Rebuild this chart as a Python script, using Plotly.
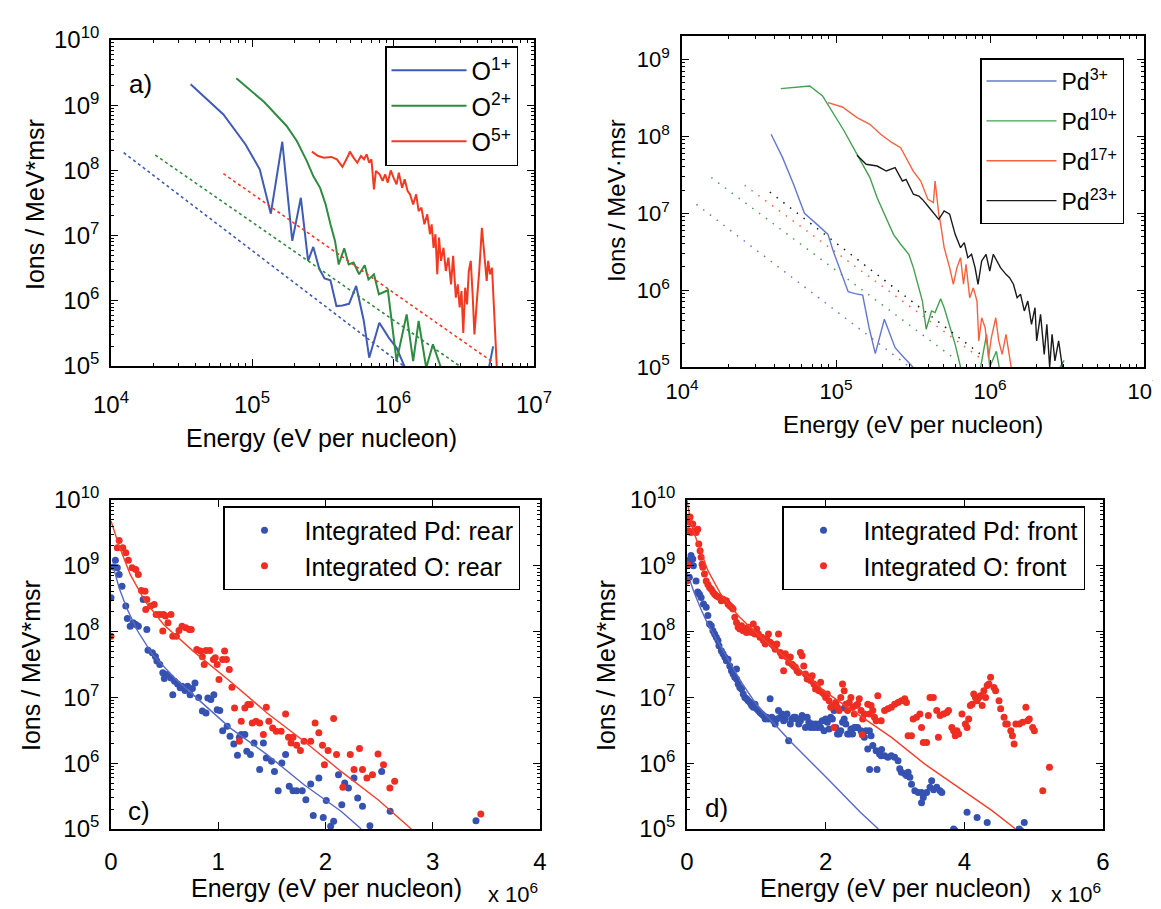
import plotly.graph_objects as go

# ---------------- a) O charge states (log-log) ----------------
o1_e = [3.67e4, 6.27e4, 9.0e4, 1.135e5, 1.36e5, 1.64e5, 1.93e5, 2.22e5, 2.5e5, 2.72e5, 3.0e5, 3.27e5, 3.6e5,
        3.97e5, 4.38e5, 4.88e5, 5.48e5, 6.2e5, 6.78e5, 8.0e5, 9.35e5, 1.06e6, 1.21e6, 2.0e6, 3.5e6, 4.77e6, 5.13e6]
o1_n = [2.1e9, 7.2e8, 2.5e8, 1.04e8, 2.17e7, 2.75e8, 8.3e6, 3.8e7, 4.1e6, 6.7e6, 3.1e6, 2.2e6, 2.06e6,
        8.3e5, 8.5e5, 9.0e5, 1.69e6, 5.0e5, 1.34e5, 4.6e5, 2.7e5, 1.9e5, 9.7e4, 4e4, 3e4, 9e4, 2.0e5]

o2_e = [7.74e4, 1.22e5, 1.76e5, 2.08e5, 2.45e5, 2.72e5, 3.04e5, 3.33e5, 3.6e5, 3.88e5, 4.12e5, 4.51e5, 4.85e5,
        5.25e5, 5.75e5, 6.3e5, 6.7e5, 7.33e5, 7.94e5, 9.2e5, 1.06e6, 1.25e6, 1.39e6, 1.52e6, 1.72e6, 1.92e6, 2.19e6]
o2_n = [2.58e9, 1.12e9, 4.8e8, 2.83e8, 1.39e8, 8.2e7, 5.4e7, 3.0e7, 1.49e7, 8.3e6, 3.6e6, 6.4e6, 3.6e6,
        3.85e6, 2.55e6, 3.5e6, 2.13e6, 2.55e6, 1.26e6, 1.45e6, 1.19e5, 6.2e5, 1.19e5, 4.9e5, 9.4e4, 2.15e5, 9.4e4]

o5_e = [2.66e5, 2.95e5, 3.23e5, 3.65e5, 4.0e5, 4.38e5, 4.8e5, 4.94e5, 5.25e5, 5.58e5, 5.93e5, 6.23e5, 6.5e5,
        6.78e5, 7.03e5, 7.33e5, 7.56e5, 8.04e5, 8.44e5, 8.8e5, 9.18e5, 9.64e5, 1.01e6, 1.06e6, 1.10e6, 1.16e6,
        1.21e6, 1.27e6, 1.32e6, 1.39e6, 1.46e6, 1.52e6, 1.59e6, 1.67e6, 1.75e6, 1.83e6, 1.88e6, 1.94e6, 2.0e6,
        2.06e6, 2.12e6, 2.19e6, 2.28e6, 2.37e6, 2.47e6, 2.58e6, 2.67e6, 2.79e6, 2.88e6, 2.97e6, 3.06e6, 3.15e6,
        3.25e6, 3.35e6, 3.45e6, 3.56e6, 3.67e6, 3.78e6, 3.95e6, 4.09e6, 4.27e6, 4.46e6, 4.62e6, 4.73e6, 4.88e6,
        5.04e6, 5.45e6]
o5_n = [1.94e8, 1.66e8, 1.57e8, 1.61e8, 1.48e8, 1.13e8, 1.66e8, 1.94e8, 1.57e8, 1.31e8, 1.66e8, 1.48e8, 1.76e8,
        1.31e8, 1.48e8, 5.1e7, 9.8e7, 8.7e7, 6.9e7, 8.7e7, 6.5e7, 1.0e8, 7.7e7, 6.1e7, 9.2e7, 5.4e7,
        7.3e7, 4.8e7, 4.3e7, 3.0e7, 4.3e7, 2.38e7, 2.68e7, 1.49e7, 2.12e7, 1.05e7, 1.49e7, 6.5e6, 1.05e7,
        2.55e6, 9.3e6, 4.1e6, 6.5e6, 2.87e6, 4.6e6, 1.79e6, 4.9e6, 1.12e6, 1.79e6, 7.9e5, 1.41e6, 3.2e5,
        1.59e6, 8.8e5, 2.87e6, 4.1e6, 1.26e6, 3.06e5, 1.12e6, 2.87e6, 1.32e7, 4.1e6, 2.01e6, 4.1e6, 2.55e6,
        3.2e6, 9.4e4]

# power-law fits (dotted), end points
fit_o1_e, fit_o1_n = [1.23e4, 1.19e6], [1.87e8, 1.0e5]
fit_o2_e, fit_o2_n = [2.06e4, 2.97e6], [1.72e8, 1.0e5]
fit_o5_e, fit_o5_n = [6.27e4, 4.98e6], [8.9e7, 1.19e5]

# ---------------- b) Pd charge states (log-log) ----------------
pd3_e = [3.79e4, 4.5e4, 5.3e4, 6.24e4, 7.5e4, 8.87e4, 9.6e4, 1.07e5, 1.2e5, 1.33e5, 1.49e5, 1.64e5, 1.8e5,
         2.06e5, 2.42e5, 2.77e5, 3.18e5, 3.5e5]
pd3_n = [1.06e8, 5.27e7, 2.37e7, 9.96e6, 7.2e6, 5.3e6, 3.2e6, 1.77e6, 9.5e5, 9.0e5, 8.6e5, 3.24e5, 1.49e5,
         4.17e5, 1.78e5, 1.32e5, 1.0e5, 8e4]

pd10_e = [4.38e4, 6.76e4, 8.18e4, 9.37e4, 1.13e5, 1.37e5, 1.66e5, 1.85e5, 2.06e5, 2.36e5, 2.63e5, 2.97e5,
          3.18e5, 3.45e5, 3.64e5, 3.85e5, 4.17e5, 4.4e5, 4.78e5, 5.04e5, 5.47e5, 5.94e5, 6.44e5, 8.0e5,
          9.5e5, 9.96e5, 1.1e6, 1.17e6, 2.0e6, 3.03e6]
pd10_n = [4.16e8, 4.5e8, 3.34e8, 2.13e8, 1.17e8, 5.8e7, 2.9e7, 1.59e7, 9.7e6, 5.3e6, 3.94e6, 2.92e6,
          1.96e6, 1.07e6, 7.2e5, 3.1e5, 5.35e5, 5.1e5, 7.7e5, 5.9e5, 3.4e5, 1.97e5, 1.0e5, 4e4,
          2.66e5, 1.0e5, 1.6e5, 8e4, 3e4, 1.22e5]

pd17_e = [8.87e4, 1.1e5, 1.37e5, 1.66e5, 1.95e5, 2.3e5, 2.63e5, 2.85e5, 3.18e5, 3.55e5, 3.95e5, 4.29e5,
          4.4e5, 4.65e5, 4.78e5, 5.04e5, 5.47e5, 5.78e5, 6.1e5, 6.44e5, 6.73e5, 6.99e5, 7.38e5, 7.8e5,
          8.23e5, 8.46e5, 8.83e5, 9.3e5, 9.79e5, 1.02e6, 1.09e6, 1.14e6, 1.2e6, 1.27e6, 1.36e6, 1.45e6]
pd17_n = [2.74e8, 2.4e8, 1.75e8, 1.43e8, 1.06e8, 8.3e7, 7.1e7, 5.3e7, 3.5e7, 2.62e7, 1.51e7, 1.37e7,
          2.62e7, 9.7e6, 7.2e6, 3.56e6, 1.96e6, 1.19e6, 1.96e6, 2.64e6, 1.19e6, 2.16e6, 7.96e5, 1.07e6,
          7.2e5, 2.18e5, 4.37e5, 3.24e5, 1.32e5, 2.4e5, 4.37e5, 2.18e5, 1.46e5, 2.66e5, 1.0e5, 5e4]

pd23_e = [1.37e5, 1.57e5, 1.85e5, 2.12e5, 2.42e5, 2.56e5, 2.7e5, 2.85e5, 3.01e5, 3.18e5, 3.45e5, 3.64e5,
          3.95e5, 4.29e5, 4.65e5, 5.04e5, 5.47e5, 5.94e5, 6.44e5, 6.81e5, 7.18e5, 7.59e5, 8.0e5, 8.36e5,
          8.83e5, 9.43e5, 9.96e5, 1.05e6, 1.11e6, 1.17e6, 1.27e6, 1.34e6, 1.42e6, 1.5e6, 1.58e6, 1.67e6,
          1.76e6, 1.86e6, 1.96e6, 2.01e6, 2.13e6, 2.25e6, 2.34e6, 2.44e6, 2.53e6, 2.64e6, 2.79e6, 2.95e6, 3.1e6]
pd23_n = [5.65e7, 4.32e7, 4.1e7, 3.53e7, 3.9e7, 3.2e7, 2.62e7, 2.75e7, 2.15e7, 1.76e7, 1.67e7, 1.51e7,
          1.24e7, 1.01e7, 8.3e6, 1.07e7, 9.7e6, 5.3e6, 3.56e6, 4.13e6, 2.64e6, 2.92e6, 1.96e6, 1.19e6,
          2.39e6, 2.92e6, 1.77e6, 2.92e6, 2.39e6, 1.96e6, 1.6e6, 1.45e6, 1.19e6, 7.96e5, 8.8e5, 5.35e5,
          7.2e5, 3.59e5, 5.9e5, 2.18e5, 4.84e5, 1.46e5, 3.59e5, 1.0e5, 2.66e5, 1.2e5, 2.18e5, 1.0e5, 5e4]

fit_pd3_e, fit_pd3_n = [1.24e4, 3.0e5], [1.3e7, 1.0e5]
fit_pd10_e, fit_pd10_n = [1.55e4, 5.78e5], [2.9e7, 1.32e5]
fit_pd17_e, fit_pd17_n = [2.55e4, 9.16e5], [2.3e7, 1.2e5]
fit_pd23_e, fit_pd23_n = [3.72e4, 8.7e5], [1.88e7, 1.46e5]

# ---------------- c) integrated, rear (energy in 10^6 eV) ----------------
pd_rear_e = [0.0, 0.024, 0.041, 0.059, 0.076, 0.103, 0.138, 0.152, 0.179, 0.207, 0.231, 0.255, 0.300, 0.334,
             0.345, 0.386, 0.414, 0.428, 0.455, 0.483, 0.497, 0.524, 0.559, 0.576, 0.593, 0.621, 0.645, 0.662,
             0.690, 0.714, 0.738, 0.759, 0.783, 0.817, 0.852, 0.886, 0.903, 0.931, 0.959, 0.990, 1.014, 1.041,
             1.083, 1.110, 1.145, 1.179, 1.197, 1.214, 1.248, 1.266, 1.300, 1.334, 1.386, 1.421, 1.448, 1.497,
             1.524, 1.559, 1.593, 1.628, 1.662, 1.697, 1.731, 1.783, 1.817, 1.862, 1.886, 1.938, 1.979, 2.007,
             2.048, 2.076, 2.121, 2.152, 2.179, 2.214, 2.266, 2.300, 2.345, 2.414, 2.524, 2.603, 3.403]
pd_rear_n = [3.27e8, 9.6e8, 1.21e9, 9.3e8, 7.4e8, 4.9e8, 2.44e8, 1.58e8, 1.21e8, 1.36e8, 1.28e8, 1.21e8, 3.08e8,
             1.08e8, 5.2e7, 4.75e7, 4.2e7, 3.56e7, 3.16e7, 2.36e7, 1.94e7, 2.23e7, 1.98e7, 1.1e7, 1.76e7, 1.6e7,
             1.4e7, 1.48e7, 1.27e7, 1.48e7, 1.1e7, 1.36e7, 1.66e7, 1.0e7, 6.2e6, 5.8e6, 9.8e6, 9.3e6, 1.1e7,
             6.5e6, 6.3e6, 3.1e6, 3.65e6, 2.57e6, 1.96e6, 1.32e6, 2.48e6, 2.72e6, 2.72e6, 1.52e6, 1.35e6, 2.03e6,
             8.0e5, 2.03e6, 1.2e6, 1.07e6, 7.5e5, 3.83e5, 1.01e6, 1.35e6, 4.46e5, 3.83e5, 3.83e5, 3.83e5, 2.79e5,
             4.84e5, 1.6e5, 5.97e5, 1.5e5, 2.7e5, 1.1e5, 1.31e5, 6.7e5, 2.34e5, 5.0e5, 4.2e5, 5.97e5, 2.96e5,
             2.21e5, 1.12e5, 7.5e5, 1.86e5, 1.34e5]

o_rear_e = [0.0, 0.059, 0.076, 0.110, 0.138, 0.162, 0.197, 0.231, 0.255, 0.283, 0.317, 0.324, 0.334, 0.369,
            0.403, 0.421, 0.455, 0.483, 0.490, 0.507, 0.531, 0.559, 0.576, 0.610, 0.634, 0.662, 0.697, 0.731,
            0.748, 0.800, 0.834, 0.852, 0.869, 0.886, 0.921, 0.955, 0.972, 0.990, 1.007, 1.041, 1.059, 1.076,
            1.103, 1.128, 1.152, 1.197, 1.214, 1.248, 1.276, 1.300, 1.317, 1.352, 1.386, 1.421, 1.448, 1.472,
            1.507, 1.541, 1.586, 1.628, 1.655, 1.679, 1.697, 1.731, 1.766, 1.800, 1.862, 1.903, 1.938, 1.972,
            1.990, 2.024, 2.076, 2.103, 2.162, 2.231, 2.266, 2.317, 2.345, 2.386, 2.438, 2.490, 2.541, 2.600,
            2.645, 3.448]
o_rear_n = [8.5e7, 1.88e9, 2.43e9, 1.88e9, 1.58e9, 1.21e9, 9.3e8, 8.8e8, 7.4e8, 4.2e8, 4.1e8, 2.17e8, 3.08e8,
            2.44e8, 2.59e8, 1.82e8, 1.82e8, 1.02e8, 1.82e8, 1.72e8, 1.36e8, 1.82e8, 8.5e7, 8.5e7, 1.04e8, 1.21e8,
            1.14e8, 1.08e8, 1.08e8, 5.35e7, 5.05e7, 4.14e7, 3.16e7, 5.17e7, 5.17e7, 3.77e7, 3.99e7, 3.16e7,
            1.87e7, 3.77e7, 5.05e7, 3.77e7, 2.66e7, 1.43e7, 6.9e6, 2.16e6, 4.35e6, 6.9e6, 7.8e6, 7.8e6, 4.1e6,
            4.35e6, 4.1e6, 2.72e6, 7.1e6, 4.35e6, 3.44e6, 3.06e6, 3.06e6, 5.6e6, 2.48e6, 2.03e6, 2.48e6, 1.87e6,
            1.56e6, 2.16e6, 2.16e6, 4.1e6, 2.89e6, 1.87e6, 9.5e5, 1.56e6, 4.78e6, 1.35e6, 4.3e5, 1.35e6, 8.0e5,
            1.67e6, 8.0e5, 5.97e5, 6.7e5, 1.38e6, 9.5e5, 4.2e5, 5.3e5, 1.69e5]

fit_pd_rear_e = [0.024, 0.076, 0.145, 0.248, 0.386, 0.593, 0.834, 1.110, 1.455, 1.800, 2.145, 2.334]
fit_pd_rear_n = [9.3e8, 4.6e8, 2.3e8, 1.02e8, 4.5e7, 1.98e7, 8.7e6, 3.44e6, 1.35e6, 4.7e5, 1.86e5, 1.0e5]
fit_o_rear_e = [0.0, 0.076, 0.179, 0.317, 0.490, 0.766, 1.110, 1.455, 1.800, 2.145, 2.490, 2.800]
fit_o_rear_n = [4.8e9, 2.0e9, 7.4e8, 2.91e8, 1.28e8, 5.05e7, 1.76e7, 5.8e6, 2.16e6, 7.5e5, 2.79e5, 1.0e5]

# ---------------- d) integrated, front (energy in 10^6 eV) ----------------
pd_front_e = [0.0, 0.010, 0.044, 0.058, 0.083, 0.092, 0.034, 0.131, 0.155, 0.180, 0.204, 0.238, 0.277, 0.301,
              0.325, 0.350, 0.374, 0.398, 0.422, 0.447, 0.461, 0.495, 0.519, 0.544, 0.568, 0.592, 0.617, 0.641,
              0.665, 0.689, 0.714, 0.714, 0.738, 0.762, 0.786, 0.811, 0.835, 0.859, 0.883, 0.908, 0.932, 0.956,
              0.981, 1.005, 1.029, 1.053, 1.078, 1.102, 1.126, 1.150, 1.175, 1.199, 1.223, 1.248, 1.272, 1.296,
              1.320, 1.345, 1.369, 1.393, 1.417, 1.442, 1.466, 1.490, 1.515, 1.539, 1.563, 1.587, 1.612, 1.636,
              1.660, 1.684, 1.709, 1.733, 1.757, 1.782, 1.806, 1.830, 1.854, 1.879, 1.903, 1.927, 1.951, 1.976,
              2.000, 2.024, 2.049, 2.073, 2.097, 2.121, 2.146, 2.170, 2.194, 2.218, 2.243, 2.267, 2.291, 2.316,
              2.340, 2.364, 2.388, 2.413, 2.437,
              2.461, 2.510, 2.558, 2.583, 2.607, 2.631, 2.655, 2.680, 2.728, 2.777, 2.801, 2.850, 2.898, 2.947,
              2.995, 3.044, 3.068, 3.092, 3.141, 3.165, 3.189, 3.214, 3.238, 3.286, 3.335, 3.383, 3.383, 3.408,
              3.456, 3.505, 3.529, 3.602, 3.650, 3.675, 3.845, 3.869, 4.039, 4.184, 4.330, 4.791, 4.816, 4.864,
              2.269, 2.634, 2.741, 2.806, 3.557]
pd_front_n = [1.0e9, 1.2e9, 1.06e9, 1.43e9, 1.27e9, 1.0e9, 6.7e8, 5.9e8, 4.0e8, 3.7e8, 3.3e8, 2.62e8, 2.34e8,
              1.75e8, 1.3e8, 1.23e8, 1.03e8, 9.2e7, 8.2e7, 7.3e7, 6.1e7, 5.1e7, 4.6e7, 4.1e7, 3.6e7, 3.8e7, 3.0e7,
              2.55e7, 2.27e7, 2.02e7, 1.9e7, 2.7e7, 1.6e7, 1.42e7, 1.34e7, 1.13e7, 1.0e7, 9.5e6, 8.9e6, 8.4e6,
              7.5e6, 7.1e6, 7.9e6, 6.7e6, 6.3e6, 5.9e6, 5.6e6, 5.3e6, 4.7e6, 5.0e6, 4.7e6, 9.5e6, 5.0e6, 4.4e6,
              3.94e6, 4.7e6, 6.3e6, 5.0e6, 5.6e6, 4.4e6, 4.7e6, 5.6e6, 2.2e6, 3.94e6, 4.7e6, 5.0e6, 5.0e6, 4.7e6,
              3.94e6, 4.4e6, 5.3e6, 5.0e6, 3.5e6, 5.0e6, 4.2e6, 3.5e6, 3.94e6, 3.5e6, 3.94e6, 3.5e6, 3.94e6,
              3.5e6, 4.4e6, 3.1e6, 4.7e6, 4.2e6, 3.3e6, 5.0e6, 4.7e6, 6.3e6, 3.5e6, 2.78e6, 2.78e6, 3.1e6, 4.2e6,
              4.7e6, 3.94e6, 2.78e6, 2.78e6, 3.3e6, 2.78e6, 3.5e6, 3.5e6,
              3.5e6, 3.1e6, 2.47e6, 3.1e6, 1.64e6, 3.1e6, 2.62e6, 1.85e6, 1.55e6, 1.38e6, 1.3e6, 1.3e6, 1.23e6,
              1.3e6, 1.23e6, 1.09e6, 8.2e5, 7.3e5, 6.9e5, 6.5e5, 7.3e5, 6.1e5, 4.8e5, 3.8e5, 3.6e5, 3.6e5, 2.5e5,
              3.0e5, 3.6e5, 4.3e5, 5.4e5, 4.3e5, 3.8e5, 3.6e5, 1.0e5, 9.4e4, 1.79e5, 1.5e5, 1.26e5, 1.0e5, 9.4e4,
              1.26e5,
              6.9e6, 8.0e5, 8.0e5, 1.61e6, 3.96e5]

o_front_e = [0.0, 0.010, 0.034, 0.044, 0.058, 0.024, 0.083, 0.107, 0.131, 0.155, 0.170, 0.189, 0.204, 0.218,
             0.228, 0.252, 0.277, 0.301, 0.325, 0.350, 0.374, 0.398, 0.422, 0.447, 0.471, 0.495, 0.519, 0.568,
             0.592, 0.617, 0.641, 0.665, 0.689, 0.714, 0.738, 0.762, 0.786, 0.811, 0.835, 0.859, 0.883, 0.908,
             0.932, 0.956, 0.981, 1.005, 1.029, 1.053, 1.078, 1.102, 1.126, 1.150, 1.175, 1.199, 1.223, 1.248,
             1.272, 1.296, 1.320, 1.345, 1.369, 1.393, 1.417, 1.442, 1.466, 1.490, 1.515, 1.539, 1.563, 1.587,
             1.612, 1.636, 1.660, 1.684, 1.709, 1.733, 1.757, 1.782, 1.806, 1.830, 1.854, 1.879, 1.903, 1.927,
             1.951, 1.976, 2.000, 2.024, 2.049, 2.073, 2.097, 2.121, 2.146, 2.170, 2.194, 2.218, 2.243, 2.267,
             2.291, 2.316, 2.340, 2.364, 2.388, 2.413, 2.437,
             2.461, 2.485, 2.510, 2.534, 2.558, 2.527, 2.607, 2.655, 2.680, 2.752, 2.631, 2.704, 2.728, 2.801,
             2.850, 2.898, 2.947, 2.995, 3.044, 3.092, 3.141, 3.165, 3.189, 3.238, 3.262, 3.311, 3.359, 3.383,
             3.408, 3.456, 3.481, 3.505, 3.553, 3.602, 3.626, 3.650, 3.699, 3.748, 3.772, 3.820, 3.845, 3.869,
             3.893, 3.917, 3.966, 4.015, 4.039, 4.063, 4.087, 4.112, 4.136, 4.160, 4.184, 4.209, 4.233, 4.257,
             4.282, 4.306, 4.330, 4.354, 4.379, 4.427, 4.451, 4.500, 4.524, 4.573, 4.597, 4.621, 4.670, 4.694,
             4.718, 4.743, 4.791, 4.840, 4.888, 4.913, 4.937, 4.985, 5.010, 5.131, 5.228]
o_front_n = [5.9e8, 1.06e9, 4.6e9, 5.5e9, 3.2e9, 3.4e9, 4.3e9, 3.4e9, 3.2e9, 3.6e9, 2.14e9, 1.7e9, 1.35e9,
             1.06e9, 9.5e8, 7.5e8, 5.9e8, 5.2e8, 4.7e8, 4.4e8, 4.0e8, 3.7e8, 3.5e8, 3.4e8, 3.3e8, 2.95e8, 3.1e8,
             2.95e8, 2.62e8, 2.48e8, 2.34e8, 2.2e8, 1.65e8, 1.38e8, 1.16e8, 1.1e8, 1.23e8, 1.03e8, 1.1e8, 9.7e7,
             1.16e8, 1.03e8, 9.7e7, 1.3e8, 9.2e7, 1.1e8, 9.2e7, 8.2e7, 8.2e7, 7.3e7, 6.5e7, 7.7e7, 9.2e7, 6.9e7,
             6.5e7, 6.1e7, 5.4e7, 6.5e7, 9.2e7, 4.8e7, 4.3e7, 2.55e7, 4.6e7, 4.1e7, 3.4e7, 4.1e7, 3.2e7, 3.0e7,
             2.86e7, 2.55e7, 2.4e7, 4.8e7, 4.3e7, 3.0e7, 2.27e7, 1.9e7, 2.02e7, 1.8e7, 2.14e7, 1.6e7, 1.34e7,
             1.42e7, 1.26e7, 1.7e7, 1.19e7, 1.13e7, 1.0e7, 1.13e7, 8.9e6, 7.1e6, 7.5e6, 3.5e6, 8.4e6, 7.1e6,
             6.3e6, 1.0e7, 1.6e7, 1.26e7, 7.9e6, 6.3e6, 8.4e6, 1.0e7, 7.1e6, 5.6e6, 7.5e6,
             7.9e6, 9.5e6, 6.3e6, 4.7e6, 5.6e6, 2.7e6, 7.9e6, 7.5e6, 6.3e6, 1.06e7, 5.6e6, 5.0e6, 4.4e6, 4.4e6,
             6.3e6, 6.7e6, 7.1e6, 7.9e6, 8.4e6, 8.9e6, 9.5e6, 8.4e6, 2.62e6, 2.62e6, 4.7e6, 5.0e6, 5.6e6, 3.5e6,
             2.07e6, 2.07e6, 5.3e6, 1.0e7, 1.0e7, 6.3e6, 2.47e6, 5.3e6, 5.6e6, 5.9e6, 6.3e6, 3.5e6, 3.1e6, 2.62e6,
             3.1e6, 2.78e6, 5.6e6, 3.94e6, 3.5e6, 4.7e6, 7.5e6, 7.9e6, 1.13e7, 1.0e7, 8.9e6, 1.0e7, 1.06e7, 7.5e6,
             1.26e7, 1.0e7, 1.51e7, 1.6e7, 2.02e7, 1.42e7, 1.26e7, 8.9e6, 6.7e6, 5.0e6, 3.94e6, 3.94e6, 3.1e6,
             2.62e6, 1.96e6, 3.94e6, 3.94e6, 4.2e6, 7.1e6, 4.4e6, 4.7e6, 3.5e6, 3.1e6, 3.8e5, 8.7e5]

fit_pd_front_e = [0.0, 0.05, 0.1, 0.2, 0.3, 0.4, 0.5, 0.6, 0.7, 0.8, 0.9, 1.0, 1.2, 1.5, 2.0, 2.5, 2.76]
fit_pd_front_n = [8e8, 5.5e8, 4e8, 2.2e8, 1.3e8, 8.5e7, 5.5e7, 3.6e7, 2.4e7, 1.6e7, 1.1e7, 7.8e6, 4.6e6, 2.1e6,
                  6.2e5, 1.8e5, 1.0e5]
fit_o_front_e = [0.0, 0.05, 0.1, 0.2, 0.3, 0.5, 0.75, 1.0, 1.25, 1.5, 1.75, 2.0, 2.46, 2.95, 3.43, 3.92, 4.40, 4.74]
fit_o_front_n = [9.9e9, 5.0e9, 3.2e9, 1.6e9, 8.5e8, 3.5e8, 1.7e8, 9.5e7, 5.7e7, 3.5e7, 2.05e7, 1.2e7, 5.6e6,
                 2.47e6, 9.7e5, 4.3e5, 1.9e5, 1.0e5]

# ---------------- styling ----------------
W, H = 1161, 909
FONT = "Liberation Sans, Arial, Helvetica, sans-serif"
BLUE, GREEN, RED = "#3f5bb5", "#2e8b40", "#f23a22"
B_BLUE, B_GREEN, B_RED, B_BLACK = "#6478cc", "#43a052", "#f4623f", "#1a1a1a"
DOT_BLUE, DOT_RED = "#3552b0", "#ee2e22"
FIT_BLUE, FIT_RED = "#5868c4", "#f2402c"


def px(x):
    return x / W


def py(y):
    return 1 - y / H


def sup_labels(exps):
    return ["10<sup>%d</sup>" % k for k in exps]


def log_minor(lo, hi):
    return [m * 10.0 ** d for d in range(lo, hi) for m in range(2, 10)]


fig = go.Figure()

# panel a
fig.add_trace(go.Scatter(x=o1_e, y=o1_n, mode="lines", line=dict(color=BLUE, width=2),
                         name="O<sup>1+</sup>", legend="legend", xaxis="x", yaxis="y"))
fig.add_trace(go.Scatter(x=o2_e, y=o2_n, mode="lines", line=dict(color=GREEN, width=2),
                         name="O<sup>2+</sup>", legend="legend", xaxis="x", yaxis="y"))
fig.add_trace(go.Scatter(x=o5_e, y=o5_n, mode="lines", line=dict(color=RED, width=2),
                         name="O<sup>5+</sup>", legend="legend", xaxis="x", yaxis="y"))
for fe, fn, c in [(fit_o1_e, fit_o1_n, BLUE), (fit_o2_e, fit_o2_n, GREEN), (fit_o5_e, fit_o5_n, RED)]:
    fig.add_trace(go.Scatter(x=fe, y=fn, mode="lines", line=dict(color=c, width=1.6, dash="dot"),
                             showlegend=False, xaxis="x", yaxis="y"))

# panel b
for e, n, c, nm in [(pd3_e, pd3_n, B_BLUE, "Pd<sup>3+</sup>"), (pd10_e, pd10_n, B_GREEN, "Pd<sup>10+</sup>"),
                    (pd17_e, pd17_n, B_RED, "Pd<sup>17+</sup>"), (pd23_e, pd23_n, B_BLACK, "Pd<sup>23+</sup>")]:
    fig.add_trace(go.Scatter(x=e, y=n, mode="lines", line=dict(color=c, width=1.4), name=nm,
                             legend="legend2", legendgroup=nm, xaxis="x2", yaxis="y2"))
for fe, fn, c in [(fit_pd3_e, fit_pd3_n, B_BLUE), (fit_pd10_e, fit_pd10_n, B_GREEN),
                  (fit_pd17_e, fit_pd17_n, B_RED), (fit_pd23_e, fit_pd23_n, B_BLACK)]:
    fig.add_trace(go.Scatter(x=fe, y=fn, mode="lines", line=dict(color=c, width=1.5, dash="1.5px,7px"),
                             showlegend=False, xaxis="x2", yaxis="y2"))

# panel c
fig.add_trace(go.Scatter(x=pd_rear_e, y=pd_rear_n, mode="markers", marker=dict(color=DOT_BLUE, size=7),
                         name="Integrated Pd: rear", legend="legend3", legendgroup="c1", xaxis="x3", yaxis="y3"))
fig.add_trace(go.Scatter(x=o_rear_e, y=o_rear_n, mode="markers", marker=dict(color=DOT_RED, size=7),
                         name="Integrated O: rear", legend="legend3", legendgroup="c2", xaxis="x3", yaxis="y3"))
fig.add_trace(go.Scatter(x=fit_pd_rear_e, y=fit_pd_rear_n, mode="lines", line=dict(color=FIT_BLUE, width=1.4),
                         showlegend=False, xaxis="x3", yaxis="y3"))
fig.add_trace(go.Scatter(x=fit_o_rear_e, y=fit_o_rear_n, mode="lines", line=dict(color=FIT_RED, width=1.4),
                         showlegend=False, xaxis="x3", yaxis="y3"))

# panel d
fig.add_trace(go.Scatter(x=pd_front_e, y=pd_front_n, mode="markers", marker=dict(color=DOT_BLUE, size=7),
                         name="Integrated Pd: front", legend="legend4", legendgroup="d1", xaxis="x4", yaxis="y4"))
fig.add_trace(go.Scatter(x=o_front_e, y=o_front_n, mode="markers", marker=dict(color=DOT_RED, size=7),
                         name="Integrated O: front", legend="legend4", legendgroup="d2", xaxis="x4", yaxis="y4"))
fig.add_trace(go.Scatter(x=fit_pd_front_e, y=fit_pd_front_n, mode="lines", line=dict(color=FIT_BLUE, width=1.4),
                         showlegend=False, xaxis="x4", yaxis="y4"))
fig.add_trace(go.Scatter(x=fit_o_front_e, y=fit_o_front_n, mode="lines", line=dict(color=FIT_RED, width=1.4),
                         showlegend=False, xaxis="x4", yaxis="y4"))

axis_common = dict(showline=True, linecolor="black", linewidth=1.6, mirror="allticks", ticks="inside",
                   ticklen=7, tickwidth=1, tickcolor="black", showgrid=False, zeroline=False, automargin=False,
                   tickfont=dict(family=FONT, size=24, color="black"))
minor_style = dict(ticks="inside", ticklen=3.5, tickwidth=1, tickcolor="black", showgrid=False)

fig.update_layout(
    width=W, height=H, margin=dict(l=0, r=0, t=0, b=0, pad=0, autoexpand=False), autosize=False,
    paper_bgcolor="white", plot_bgcolor="white",
    font=dict(family=FONT, color="black"),
    xaxis=dict(axis_common, type="log", domain=[px(103), px(526)], anchor="y", range=[4, 7],
               tickmode="array", tickvals=[1e4, 1e5, 1e6, 1e7], ticktext=sup_labels(range(4, 8)),
               minor=dict(minor_style, tickmode="array", tickvals=log_minor(4, 7)), ticklabelstandoff=16),
    yaxis=dict(axis_common, type="log", domain=[py(358), py(32)], anchor="x", range=[5, 10],
               tickmode="array", tickvals=[10.0 ** k for k in range(5, 11)], ticktext=sup_labels(range(5, 11)),
               minor=dict(minor_style, tickmode="array", tickvals=log_minor(5, 10)), ticklabelstandoff=5),
    xaxis2=dict(axis_common, type="log", domain=[px(674), px(1136)], anchor="y2", range=[4, 7],
                tickmode="array", tickvals=[1e4, 1e5, 1e6, 1e7], ticktext=sup_labels(range(4, 8)),
                minor=dict(minor_style, tickmode="array", tickvals=log_minor(4, 7)), ticklabelstandoff=4,
                ticklabeloverflow="allow", tickfont=dict(family=FONT, size=22, color="black")),
    yaxis2=dict(axis_common, type="log", domain=[py(359), py(28)], anchor="x2", range=[5, 9.303],
                tickmode="array", tickvals=[10.0 ** k for k in range(5, 10)], ticktext=sup_labels(range(5, 10)),
                minor=dict(minor_style, tickmode="array", tickvals=log_minor(5, 10)), ticklabelstandoff=6,
                tickfont=dict(family=FONT, size=22, color="black")),
    xaxis3=dict(axis_common, domain=[px(103), px(532)], anchor="y3", range=[0, 4],
                tickmode="array", tickvals=[0, 1, 2, 3, 4], ticklabelstandoff=10),
    yaxis3=dict(axis_common, type="log", domain=[py(821), py(492)], anchor="x3", range=[5, 10],
                tickmode="array", tickvals=[10.0 ** k for k in range(5, 11)], ticktext=sup_labels(range(5, 11)),
                minor=dict(minor_style, tickmode="array", tickvals=log_minor(5, 10)), ticklabelstandoff=5),
    xaxis4=dict(axis_common, domain=[px(679), px(1095)], anchor="y4", range=[0, 6],
                tickmode="array", tickvals=[0, 2, 4, 6], ticklabelstandoff=10),
    yaxis4=dict(axis_common, type="log", domain=[py(821), py(492)], anchor="x4", range=[5, 10],
                tickmode="array", tickvals=[10.0 ** k for k in range(5, 11)], ticktext=sup_labels(range(5, 11)),
                minor=dict(minor_style, tickmode="array", tickvals=log_minor(5, 10)), ticklabelstandoff=5),
)

legend_common = dict(xanchor="left", yanchor="top", bgcolor="white", bordercolor="black", borderwidth=1.5,
                     xref="paper", yref="paper")
fig.update_layout(
    legend=dict(legend_common, x=px(377), y=py(38), font=dict(family=FONT, size=25), itemwidth=75,
                tracegroupgap=0),
    legend2=dict(legend_common, x=px(972), y=py(50), font=dict(family=FONT, size=23), itemwidth=70,
                 tracegroupgap=7),
    legend3=dict(legend_common, x=px(215), y=py(498), font=dict(family=FONT, size=25), itemwidth=70,
                 tracegroupgap=0),
    legend4=dict(legend_common, x=px(774), y=py(498), font=dict(family=FONT, size=25), itemwidth=70,
                 tracegroupgap=0),
)

# axis titles and panel tags
notes = [
    ("Energy (eV per nucleon)", 314, 430, 0, 25),
    ("Energy (eV per nucleon)", 905, 416, 0, 24),
    ("Energy (eV per nucleon)", 318, 880, 0, 25),
    ("Energy (eV per nucleon)", 887, 880, 0, 25),
    ("Ions / MeV*msr", 27, 197, -90, 25),
    ("Ions / MeV\u00b7msr", 609, 193, -90, 24),
    ("Ions / MeV*msr", 23, 658, -90, 25),
    ("Ions / MeV*msr", 598, 658, -90, 25),
    ("a)", 132, 76, 0, 26),
    ("c)", 131, 803, 0, 26),
    ("d)", 708, 800, 0, 26),
]
for text, x, y, ang, size in notes:
    fig.add_annotation(text=text, x=px(x), y=py(y), xref="paper", yref="paper", showarrow=False,
                       textangle=ang, xanchor="center", yanchor="middle", font=dict(family=FONT, size=size))
for xr in [532, 1095]:
    fig.add_annotation(text="x 10<sup>6</sup>", x=px(xr), y=py(901), xref="paper", yref="paper",
                       showarrow=False, xanchor="right", yanchor="bottom", font=dict(family=FONT, size=22))

fig.write_html("out.html")
